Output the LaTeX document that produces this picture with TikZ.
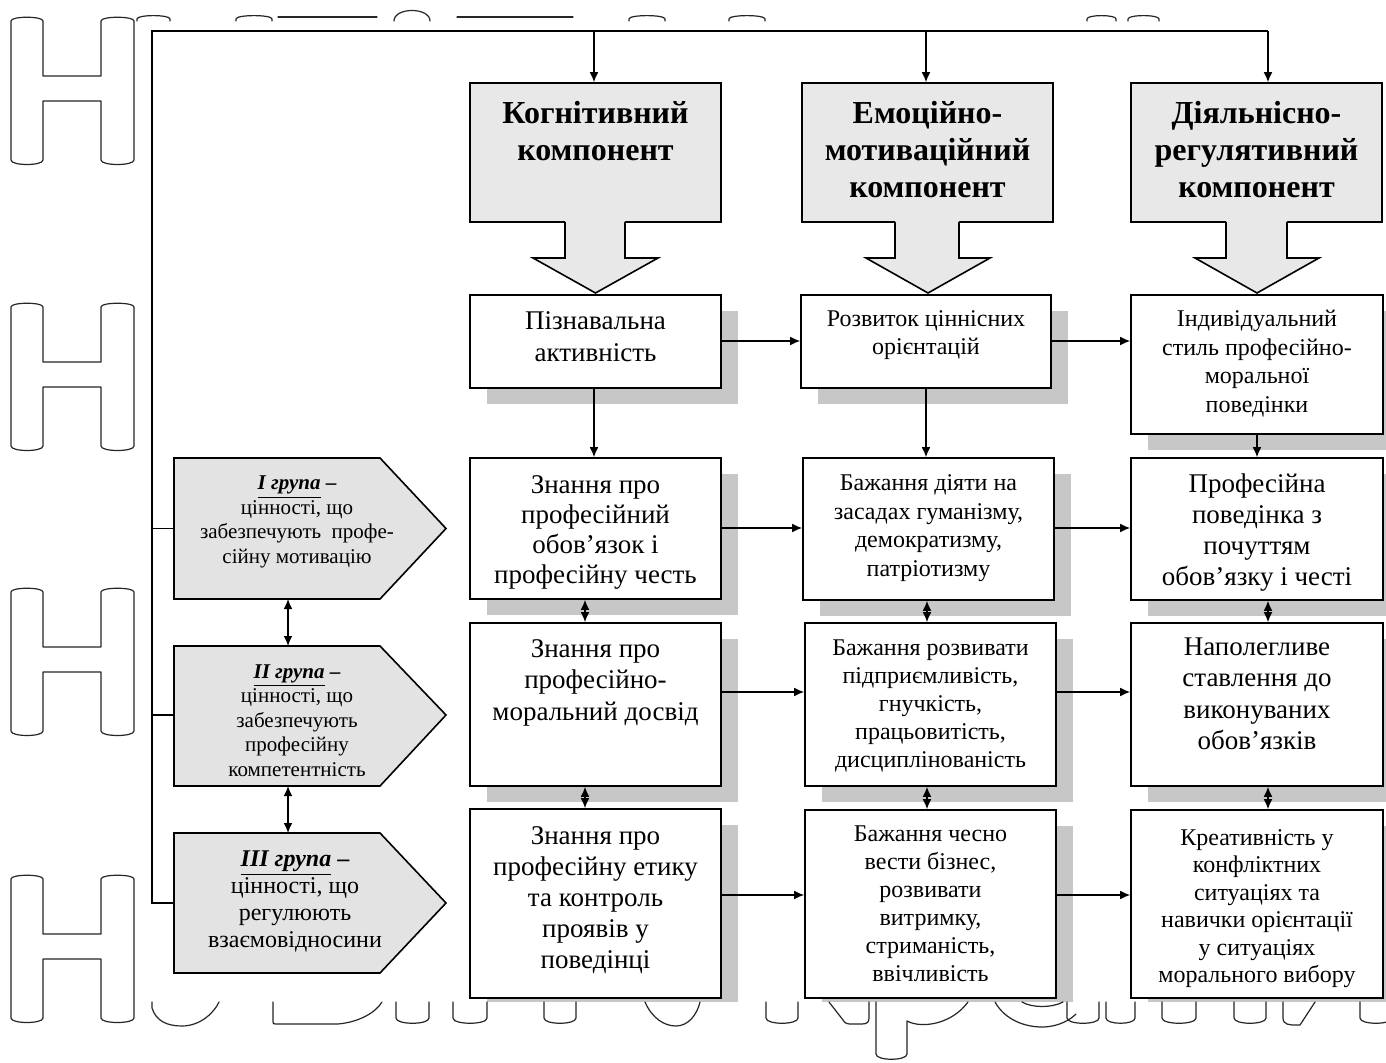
\documentclass[tikz,border=0pt]{standalone}
\usepackage{fontspec}
\setmainfont{Liberation Serif}
\usetikzlibrary{arrows.meta,fit,calc}

\tikzset{
  wm/.style={line width=0.6pt, black!85, line join=round, line cap=round},
  frame/.style={draw, line width=0.8pt, inner sep=0pt},
  topbox/.style={frame, fill=black!9},
  whitebox/.style={frame, fill=white},
  grp/.style={draw, line width=0.8pt, fill=black!11, line join=miter},
  shadowfill/.style={fill=black!22},
  conn/.style={line width=0.65pt, -{Latex[length=5pt,width=4.4pt]}},
  biconn/.style={line width=0.65pt, {Latex[length=5pt,width=4.4pt]}-{Latex[length=5pt,width=4.4pt]}},
  plain/.style={line width=0.65pt},
  txt/.style={anchor=base, inner sep=0pt},
}

\newcommand{\ml}[4]{\parbox[t]{#1}{\fontsize{#2}{#3}\selectfont\centering #4\par}}

\newcommand{\shbox}[6]{%
  \fill[shadowfill] (#3+17,#4+16) rectangle (#5+17,#6+16);
  \coordinate (#1-nw) at (#3,#4);
  \coordinate (#1-se) at (#5,#6);
  \node[#2, fit=(#1-nw)(#1-se)] (#1) {};
}
\newcommand{\plbox}[6]{%
  \coordinate (#1-nw) at (#3,#4);
  \coordinate (#1-se) at (#5,#6);
  \node[#2, fit=(#1-nw)(#1-se)] (#1) {};
}
\newcommand{\grpshape}[4]{%
  \draw[grp] (174,#2) -- (380,#2) -- (446,#4) -- (380,#3) -- (174,#3) -- cycle;
  \coordinate (#1-w) at (174,#4);
  \coordinate (#1-n) at (288,#2);
  \coordinate (#1-s) at (288,#3);
}
\newcommand{\blockarr}[5]{%
  \fill[black!9] (#1,219) -- (#1,258) -- (#3,258) -- ({(#3+#4)/2},293) -- (#4,258) -- (#2,258) -- (#2,219) -- cycle;
  \draw[line width=0.8pt, line join=miter] (#1,222) -- (#1,258) -- (#3,258) -- ({(#3+#4)/2},293) -- (#4,258) -- (#2,258) -- (#2,222);
}
\newcommand{\wmH}[1]{%
  \draw[wm] (11,#1+4) .. controls (11,#1-1) and (43,#1-1) .. (43,#1+4) -- (43,#1+59) -- (101,#1+59) -- (101,#1+4)
    .. controls (101,#1-1) and (134,#1-1) .. (134,#1+4) -- (134,#1+143)
    .. controls (134,#1+149) and (101,#1+149) .. (101,#1+143) -- (101,#1+84) -- (43,#1+84) -- (43,#1+143)
    .. controls (43,#1+149) and (11,#1+149) .. (11,#1+143) -- cycle;
}

\begin{document}
\begin{tikzpicture}[x=0.5pt,y=-0.5pt]
\useasboundingbox (0,0) rectangle (1386,1063);
\clip (0,0) rectangle (1386,1063);
\fill[white] (0,0) rectangle (1386,1063);

% ---------- shadows and boxes ----------
\plbox{t1}{topbox}{470}{83}{721}{222}
\plbox{t2}{topbox}{802}{83}{1053}{222}
\plbox{t3}{topbox}{1131}{83}{1382}{222}
\blockarr{565}{625}{533}{658}{}
\blockarr{895}{959}{866}{990}{}
\blockarr{1226}{1287}{1195}{1319}{}

\shbox{p1}{whitebox}{470}{295}{721}{388}
\shbox{p2}{whitebox}{801}{295}{1051}{388}
\shbox{p3}{whitebox}{1131}{295}{1383}{434}
\shbox{k1}{whitebox}{470}{458}{721}{599}
\shbox{e1}{whitebox}{803}{458}{1054}{600}
\shbox{d1}{whitebox}{1131}{458}{1383}{600}
\shbox{k2}{whitebox}{470}{623}{721}{786}
\shbox{e2}{whitebox}{805}{623}{1056}{786}
\shbox{d2}{whitebox}{1131}{623}{1383}{786}
\shbox{k3}{whitebox}{470}{809}{721}{998}
\shbox{e3}{whitebox}{805}{810}{1056}{998}
\shbox{d3}{whitebox}{1131}{810}{1383}{998}

\grpshape{g1}{458}{599}{528.5}
\grpshape{g2}{646}{786}{715}
\grpshape{g3}{833}{973}{903}

% strip under the diagram (watermark area)
\fill[white] (140,1002) rectangle (1386,1063);

% ---------- texts ----------
\node[txt] (t1t) at (595.5,124) {\ml{120pt}{16}{18.5}{\bfseries Когнітивний\\компонент}};
\node[txt] (t2t) at (927.5,124) {\ml{120pt}{16}{18.5}{\bfseries Емоційно-\\мотиваційний\\компонент}};
\node[txt] (t3t) at (1256.5,124) {\ml{120pt}{16}{18.5}{\bfseries Діяльнісно-\\регулятивний\\компонент}};

\node[txt] (p1t) at (595.5,330) {\ml{120pt}{13.5}{16}{Пізнавальна\\активність}};
\node[txt] (p2t) at (926,327) {\ml{120pt}{12}{14}{Розвиток ціннісних\\орієнтацій}};
\node[txt] (p3t) at (1257,327) {\ml{120pt}{12}{14.25}{Індивідуальний\\стиль професійно-\\моральної\\поведінки}};

\node[txt] (k1t) at (595.5,494) {\ml{122pt}{13.5}{15}{Знання про\\професійний\\обов’язок і\\професійну честь}};
\node[txt] (e1t) at (928.5,491) {\ml{122pt}{12}{14.2}{Бажання діяти на\\засадах гуманізму,\\демократизму,\\патріотизму}};
\node[txt] (d1t) at (1257,493) {\ml{122pt}{13.5}{15.5}{Професійна\\поведінка з\\почуттям\\обов’язку і честі}};

\node[txt] (k2t) at (595.5,657) {\ml{122pt}{13.5}{15.75}{Знання про\\професійно-\\моральний досвід}};
\node[txt] (e2t) at (930.5,655) {\ml{122pt}{12}{14}{Бажання розвивати\\підприємливість,\\гнучкість,\\працьовитість,\\дисциплінованість}};
\node[txt] (d2t) at (1257,655) {\ml{122pt}{13.5}{15.75}{Наполегливе\\ставлення до\\виконуваних\\обов'язків}};

\node[txt] (k3t) at (595.5,844) {\ml{122pt}{13.5}{15.5}{Знання про\\професійну етику\\та контроль\\проявів у\\поведінці}};
\node[txt] (e3t) at (930.5,841) {\ml{122pt}{12}{14}{Бажання чесно\\вести бізнес,\\розвивати\\витримку,\\стриманість,\\ввічливість}};
\node[txt] (d3t) at (1257,845) {\ml{122pt}{12}{13.75}{Креативність у\\конфліктних\\ситуаціях та\\навички орієнтації\\у ситуаціях\\морального вибору}};

\node[txt] (g1t) at (297,490) {\ml{110pt}{10.5}{12.2}{\textbf{\textit{\underline{I група}}} \textbf{–}\\цінності, що\\забезпечують~~профе-\\сійну мотивацію}};
\node[txt] (g2t) at (297,678) {\ml{110pt}{10.5}{12.25}{\textbf{\textit{\underline{II група}}} \textbf{–}\\цінності, що\\забезпечують\\професійну\\компетентність}};
\node[txt] (g3t) at (295,866) {\ml{110pt}{12}{13.6}{\textbf{\textit{\underline{III група}}} \textbf{–}\\цінності, що\\регулюють\\взаємовідносини}};

% ---------- connectors ----------
\coordinate (fTL) at (152,31);
\coordinate (fTR) at (1268,31);
\coordinate (fBL) at (152,903);
\coordinate (fa1) at (594,31);
\coordinate (fa2) at (926,31);
\draw[plain] (fTR) -- (fTL) -- (fBL) -- (g3-w);
\draw[plain] (fBL |- g1-w) -- (g1-w);
\draw[plain] (fBL |- g2-w) -- (g2-w);
\draw[conn] (fa1) -- (fa1 |- t1.north);
\draw[conn] (fa2) -- (fa2 |- t2.north);
\draw[conn] (fTR) -- (fTR |- t3.north);

\draw[biconn] (g1-s) -- (g2-n);
\draw[biconn] (g2-s) -- (g3-n);

\coordinate (cp) at (594,0);
\coordinate (cpe) at (926,0);
\coordinate (cpd) at (1257,0);
\draw[conn] (p1.south -| cp) -- (k1.north -| cp);
\draw[conn] (p2.south -| cpe) -- (e1.north -| cpe);
\draw[conn] (p3.south -| cpd) -- (d1.north -| cpd);

\coordinate (r2) at (0,341);
\coordinate (r3) at (0,528);
\coordinate (r4) at (0,692);
\coordinate (r5) at (0,895);
\draw[conn] (p1.east |- r2) -- (p2.west |- r2);
\draw[conn] (p2.east |- r2) -- (p3.west |- r2);
\draw[conn] (k1.east |- r3) -- (e1.west |- r3);
\draw[conn] (e1.east |- r3) -- (d1.west |- r3);
\draw[conn] (k2.east |- r4) -- (e2.west |- r4);
\draw[conn] (e2.east |- r4) -- (d2.west |- r4);
\draw[conn] (k3.east |- r5) -- (e3.west |- r5);
\draw[conn] (e3.east |- r5) -- (d3.west |- r5);

\coordinate (ck) at (585,0);
\coordinate (ce) at (927,0);
\coordinate (cd) at (1268,0);
\draw[biconn] (k1.south -| ck) -- (k2.north -| ck);
\draw[biconn] (k2.south -| ck) -- (k3.north -| ck);
\draw[biconn] (e1.south -| ce) -- (e2.north -| ce);
\draw[biconn] (e2.south -| ce) -- (e3.north -| ce);
\draw[biconn] (d1.south -| cd) -- (d2.north -| cd);
\draw[biconn] (d2.south -| cd) -- (d3.north -| cd);

% ---------- watermark fragments ----------
\wmH{17}
\wmH{303}
\wmH{588}
\wmH{875}
% tops
\foreach \a/\b in {137/170, 236/272, 629/665, 729/765, 1087/1116, 1128/1159}
  \draw[wm] (\a,21) -- (\a,19) .. controls (\a,14.5) and (\b,14.5) .. (\b,19) -- (\b,21);
\draw[wm] (278,17) -- (377,17);
\draw[wm] (457,17) -- (573,17);
\draw[wm] (394,21) .. controls (394,7) and (430,7) .. (430,21);
% bottoms
\draw[wm] (152,1002) -- (152,1008) .. controls (156,1021) and (167,1026) .. (182,1026) .. controls (200,1026) and (214,1013) .. (219,1002);
\draw[wm] (273,1002) -- (273,1021) .. controls (273,1024) .. (276,1024) -- (338,1024) .. controls (360,1022) and (376,1012) .. (382,1002);
\foreach \a/\b in {396/429, 453/487, 544/576, 766/798, 1067/1099, 1106/1135, 1162/1196, 1234/1266, 1360/1392}
  \draw[wm] (\a,1002) -- (\a,1018) .. controls (\a,1025) and (\b,1025) .. (\b,1018) -- (\b,1002);
\draw[wm] (645,1002) .. controls (652,1018) and (664,1026) .. (676,1026) .. controls (688,1026) and (697,1015) .. (700,1002);
\draw[wm] (829,1002) -- (843,1020) .. controls (845,1024) and (848,1024) .. (852,1024) -- (862,1024) .. controls (867,1024) and (869,1022) .. (869,1018) -- (869,1002);
\draw[wm] (876,1002) -- (876,1054) .. controls (876,1061) and (907,1061) .. (907,1054) -- (907,1021) .. controls (922,1029) and (952,1024) .. (968,1002);
\draw[wm] (995,1002) .. controls (1005,1020) and (1025,1027) .. (1042,1027) .. controls (1058,1027) and (1070,1020) .. (1076,1014);
\draw[wm] (1022,1002) .. controls (1032,1008) and (1052,1008) .. (1063,1002);
\draw[wm] (1283,1002) -- (1283,1018) .. controls (1283,1025) and (1290,1025) .. (1296,1025) -- (1300,1025) -- (1315,1002);
\end{tikzpicture}
\end{document}
